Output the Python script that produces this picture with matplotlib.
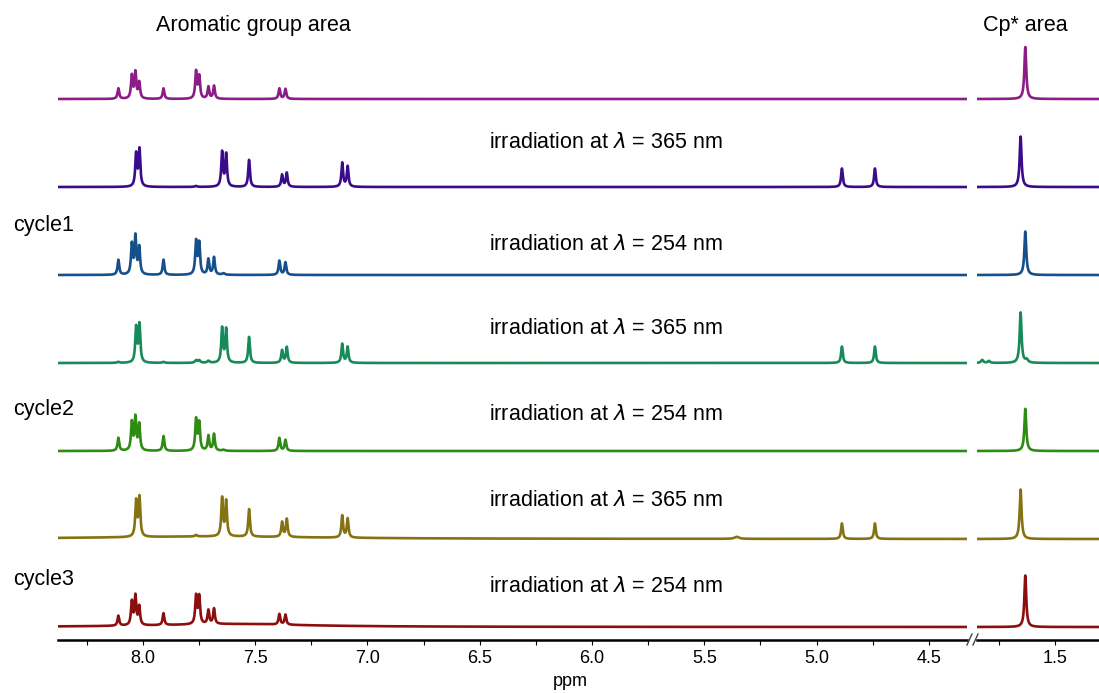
import numpy as np
import matplotlib
matplotlib.use("Agg")
import matplotlib.pyplot as plt

plt.rcParams['font.family'] = ['Liberation Sans', 'DejaVu Sans']

# peak positions (ppm) for the two photo-states
pos_254 = [8.109, 8.049, 8.033, 8.016, 7.908, 7.763, 7.749, 7.708, 7.683, 7.392, 7.365]
pos_365 = [8.030, 8.015, 7.647, 7.629, 7.527, 7.380, 7.359, 7.112, 7.088, 4.887, 4.740]
cp_254 = 1.632
cp_365 = 1.653

# spectra from top to bottom
states = ['254', '365', '254', '365', '254', '365', '254']
colors = ['#8C1C87', '#3A0C8C', '#16508A', '#178A5A', '#2E8C14', '#857312', '#8C0F0F']
heights = [
    [10.5, 23, 26, 16, 10.5, 27, 22, 12, 13, 10.5, 10],
    [32.5, 37, 34.5, 32.5, 27, 12, 14, 24, 20.5, 18.5, 18.5],
    [15, 30, 37.5, 27, 15.2, 33, 31, 15.5, 17.5, 14.2, 12.5],
    [35, 38, 34.5, 33.5, 26, 12.5, 15.8, 19, 16, 16.5, 16.5],
    [13, 28, 32.5, 26, 14.8, 31, 27.5, 15, 16.8, 13, 11],
    [35.5, 39, 38, 35, 27.5, 14.8, 18, 22, 19, 15.5, 15.5],
    [10, 23.5, 29, 18.5, 11.8, 28, 27.5, 13.8, 15.4, 10.6, 10],
]
cp_heights = [52, 50.5, 43.5, 50.5, 42.2, 49.5, 51.5]

# small extra signals / baseline humps: (ppm, height, half width)
extras = [
    [],
    [(7.764, 1.0, 0.006)],
    [(7.641, 1.5, 0.007)],
    [(8.109, 1.0, 0.006), (7.908, 1.0, 0.006), (7.763, 2.5, 0.006), (7.749, 2.5, 0.006),
     (7.708, 2.0, 0.006), (1.824, 3.0, 0.006), (1.794, 2.0, 0.006), (1.626, 3.0, 0.007)],
    [(7.641, 1.0, 0.007)],
    [(7.763, 1.5, 0.006), (5.355, 2.0, 0.012), (7.7, 2.5, 0.6)],
    [(7.6, 3.0, 0.4)],
]

texts = ['', r'irradiation at $\lambda$ = 365 nm', r'irradiation at $\lambda$ = 254 nm',
         r'irradiation at $\lambda$ = 365 nm', r'irradiation at $\lambda$ = 254 nm',
         r'irradiation at $\lambda$ = 365 nm', r'irradiation at $\lambda$ = 254 nm']
text_y = [0, 143, 244, 328, 415, 500, 587]
cycles = {'cycle1': 226, 'cycle2': 409, 'cycle3': 580}

W, H = 1099, 693
offsets = [541, 453, 365, 277, 189, 101, 13]


def lorentz(x, x0, h, w):
    return h / (1 + ((x - x0) / w) ** 2)


def spectrum(x, i):
    pos = pos_254 if states[i] == '254' else pos_365
    cp = cp_254 if states[i] == '254' else cp_365
    y = np.zeros_like(x)
    for p, h in zip(pos, heights[i]):
        y += lorentz(x, p, h, 0.0045)
    y += lorentz(x, cp, cp_heights[i], 0.005)
    for p, h, w in extras[i]:
        y += lorentz(x, p, h, w)
    return y + offsets[i]


fig = plt.figure(figsize=(W / 100, H / 100), dpi=100)
ax1 = fig.add_axes([57.5 / W, 53 / H, 909.5 / W, 640 / H])
ax2 = fig.add_axes([977 / W, 53 / H, 122 / W, 640 / H])

xl = np.linspace(8.38, 4.33, 9000)
xr = np.linspace(1.847, 1.304, 1500)
for i in range(len(states)):
    ax1.plot(xl, spectrum(xl, i), color=colors[i], lw=1.9)
    ax2.plot(xr, spectrum(xr, i), color=colors[i], lw=1.9)

ax1.set_xlim(8.38, 4.33)
ax2.set_xlim(1.847, 1.304)
for ax in (ax1, ax2):
    ax.set_ylim(0, 640)
    ax.set_yticks([])
    for s in ('left', 'right', 'top'):
        ax.spines[s].set_visible(False)
    ax.spines['bottom'].set_linewidth(1.8)
    ax.tick_params(axis='x', which='both', direction='out', length=3.5, width=0.8,
                   labelsize=13, pad=4)
    ax.patch.set_alpha(0)

ax1.set_xticks([8.0, 7.5, 7.0, 6.5, 6.0, 5.5, 5.0, 4.5])
ax1.set_xticks([8.25, 7.75, 7.25, 6.75, 6.25, 5.75, 5.25, 4.75], minor=True)
ax2.set_xticks([1.5])
ax2.set_xticks([1.75], minor=True)

for i, t in enumerate(texts):
    if t:
        ax1.text(5.94, 640 - text_y[i], t, ha='center', va='center', fontsize=15.5)

fig.text(253 / W, 1 - 25 / H, 'Aromatic group area', ha='center', va='center', fontsize=15.5)
fig.text(1025 / W, 1 - 25 / H, 'Cp* area', ha='center', va='center', fontsize=15.5)
for lab, yp in cycles.items():
    fig.text(13 / W, 1 - yp / H, lab, ha='left', va='center', fontsize=15.5)
fig.text(570 / W, 1 - 681 / H, 'ppm', ha='center', va='center', fontsize=13)

# break marks
for xb in (967, 973):
    fig.add_artist(plt.Line2D([xb / W, (xb + 5) / W], [1 - 645 / H, 1 - 634 / H],
                              color='#444444', lw=1.0))

fig.savefig('out.png', dpi=100)
